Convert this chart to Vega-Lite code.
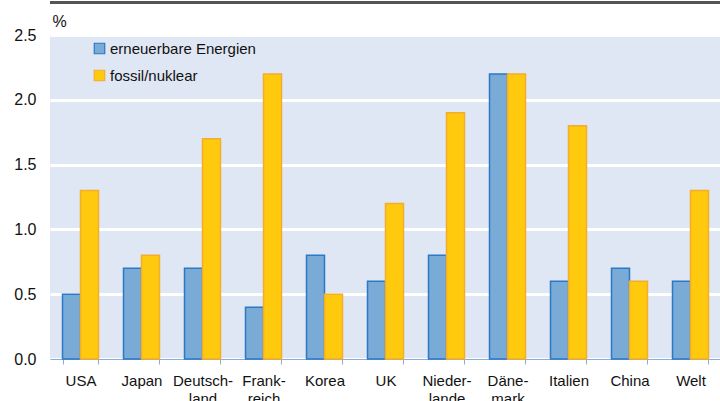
{
  "$schema": "https://vega.github.io/schema/vega-lite/v6.json",
  "autosize": {"type": "none"},
  "width": 671,
  "height": 324,
  "padding": {"left": 50, "top": 35, "right": 0, "bottom": 42},
  "background": "white",
  "config": {
    "view": {"fill": "#e0e7f4", "stroke": null},
    "font": "Liberation Sans",
    "axis": {"labelFont": "Liberation Sans", "titleFont": "Liberation Sans", "labelColor": "#111", "titleColor": "#111"}
  },
  "data": {"values": [
    {"land": "USA", "typ": "erneuerbare Energien", "wert": 0.5},
    {"land": "USA", "typ": "fossil/nuklear", "wert": 1.3},
    {"land": "Japan", "typ": "erneuerbare Energien", "wert": 0.7},
    {"land": "Japan", "typ": "fossil/nuklear", "wert": 0.8},
    {"land": "Deutsch-|land", "typ": "erneuerbare Energien", "wert": 0.7},
    {"land": "Deutsch-|land", "typ": "fossil/nuklear", "wert": 1.7},
    {"land": "Frank-|reich", "typ": "erneuerbare Energien", "wert": 0.4},
    {"land": "Frank-|reich", "typ": "fossil/nuklear", "wert": 2.2},
    {"land": "Korea", "typ": "erneuerbare Energien", "wert": 0.8},
    {"land": "Korea", "typ": "fossil/nuklear", "wert": 0.5},
    {"land": "UK", "typ": "erneuerbare Energien", "wert": 0.6},
    {"land": "UK", "typ": "fossil/nuklear", "wert": 1.2},
    {"land": "Nieder-|lande", "typ": "erneuerbare Energien", "wert": 0.8},
    {"land": "Nieder-|lande", "typ": "fossil/nuklear", "wert": 1.9},
    {"land": "Däne-|mark", "typ": "erneuerbare Energien", "wert": 2.2},
    {"land": "Däne-|mark", "typ": "fossil/nuklear", "wert": 2.2},
    {"land": "Italien", "typ": "erneuerbare Energien", "wert": 0.6},
    {"land": "Italien", "typ": "fossil/nuklear", "wert": 1.8},
    {"land": "China", "typ": "erneuerbare Energien", "wert": 0.7},
    {"land": "China", "typ": "fossil/nuklear", "wert": 0.6},
    {"land": "Welt", "typ": "erneuerbare Energien", "wert": 0.6},
    {"land": "Welt", "typ": "fossil/nuklear", "wert": 1.3}
  ]},
  "layer": [
    {
      "mark": {"type": "bar", "strokeWidth": 1.5},
      "encoding": {
        "x": {
          "field": "land", "type": "nominal", "sort": null,
          "scale": {"paddingInner": 0.41, "paddingOuter": 0.205},
          "axis": {
            "title": null, "labelAngle": 0, "labelFontSize": 15,
            "labelExpr": "datum.value ? split(datum.value, '|') : ''", "labelLineHeight": 18,
            "tickBand": "extent", "tickSize": 5, "tickColor": "#8eaadb",
            "domainColor": "#8eaadb", "labelPadding": 9, "labelBaseline": "top"
          }
        },
        "xOffset": {"field": "typ", "type": "nominal", "sort": null},
        "y": {
          "field": "wert", "type": "quantitative",
          "scale": {"domain": [0, 2.5], "nice": false},
          "axis": {
            "title": "%", "titleAngle": 0, "titleFontSize": 16, "titleFontWeight": "normal",
            "titleAlign": "left", "titleBaseline": "alphabetic", "titleX": 2, "titleY": -9,
            "values": [0, 0.5, 1, 1.5, 2, 2.5], "format": ".1f",
            "labelFontSize": 16, "labelPadding": 14, "ticks": false, "domain": false,
            "grid": true, "gridColor": "white", "gridWidth": 3
          }
        },
        "fill": {
          "field": "typ", "type": "nominal", "sort": null,
          "scale": {"domain": ["erneuerbare Energien", "fossil/nuklear"], "range": ["#7aaad6", "#ffc90e"]},
          "legend": {
            "title": null, "orient": "none", "legendX": 42, "legendY": 6,
            "symbolType": "square", "symbolSize": 110, "labelFontSize": 15,
            "labelOffset": 3, "rowPadding": 10, "labelColor": "#111", "labelFont": "Liberation Sans",
            "symbolStrokeWidth": 1.2
          }
        },
        "stroke": {
          "field": "typ", "type": "nominal", "sort": null,
          "scale": {"domain": ["erneuerbare Energien", "fossil/nuklear"], "range": ["#2a78c6", "#f4ac2c"]},
          "legend": null
        }
      }
    },
    {
      "mark": {"type": "rule", "color": "#555555", "strokeWidth": 2},
      "encoding": {"y": {"datum": 2.753}}
    }
  ]
}
